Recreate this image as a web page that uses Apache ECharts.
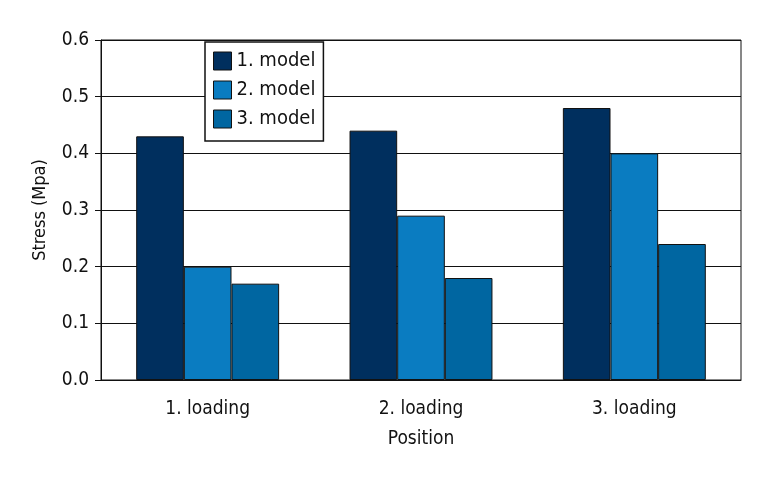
<!DOCTYPE html>
<html><head><meta charset="utf-8">
<script src="https://cdn.jsdelivr.net/npm/echarts@6/dist/echarts.min.js"></script>
<style>html,body{margin:0;padding:0;background:#fff}#c{width:768px;height:480px}</style>
</head><body><div id="c"></div>
<script>
const categories = ['1. loading', '2. loading', '3. loading'];
const seriesNames = ['1. model', '2. model', '3. model'];
const model1 = [0.43, 0.44, 0.48];
const model2 = [0.20, 0.29, 0.40];
const model3 = [0.17, 0.18, 0.24];
const colors = ['#002f5e', '#0a7cc1', '#0066a1'];
const FONT = "'Liberation Sans Narrow', 'DejaVu Sans Condensed', sans-serif";
const chart = echarts.init(document.getElementById('c'));
const mk = (name, data, i) => ({
  name, type: 'bar', data,
  barGap: '0%', barCategoryGap: '33%',
  itemStyle: { color: colors[i], borderColor: '#111', borderWidth: 1 }
});
chart.setOption({
  animation: false,
  textStyle: { fontFamily: FONT },
  grid: { left: 101, right: 27, top: 40, bottom: 100, show: true, borderColor: '#111', borderWidth: 1, backgroundColor: '#fff' },
  legend: {
    orient: 'vertical', left: 205, top: 42, itemWidth: 18, itemHeight: 18, itemGap: 9,
    icon: 'rect',
    padding: [9, 8, 12, 8],
    backgroundColor: '#fff', borderColor: '#111', borderWidth: 1.5,
    textStyle: { fontFamily: FONT, fontSize: 20, color: '#111' },
    itemStyle: { borderColor: '#111', borderWidth: 1 },
    data: seriesNames
  },
  xAxis: {
    type: 'category', data: categories,
    name: 'Position', nameLocation: 'middle', nameGap: 50,
    nameTextStyle: { fontFamily: FONT, fontSize: 19, color: '#111' },
    axisLine: { lineStyle: { color: '#111' } },
    axisTick: { length: 8, lineStyle: { color: '#111' } },
    axisLabel: { fontFamily: FONT, fontSize: 19, color: '#111', margin: 20 }
  },
  yAxis: {
    type: 'value', min: 0, max: 0.6, interval: 0.1,
    name: 'Stress (Mpa)', nameLocation: 'middle', nameGap: 52,
    nameTextStyle: { fontFamily: FONT, fontSize: 18, color: '#111' },
    axisLine: { show: true, lineStyle: { color: '#111' } },
    axisTick: { show: true, length: 6, lineStyle: { color: '#111' } },
    axisLabel: { fontFamily: FONT, fontSize: 19, color: '#111', margin: 12, formatter: v => v.toFixed(1) },
    splitLine: { lineStyle: { color: '#111' } }
  },
  series: [mk(seriesNames[0], model1, 0), mk(seriesNames[1], model2, 1), mk(seriesNames[2], model3, 2)]
});
</script></body></html>
